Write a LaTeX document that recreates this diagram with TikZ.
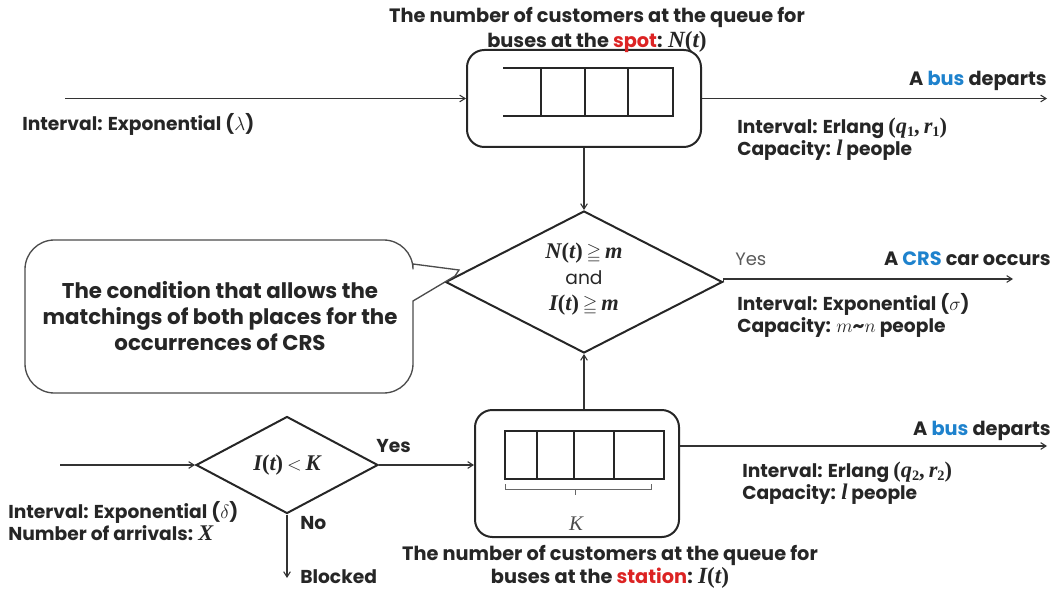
\documentclass[tikz,border=0pt]{standalone}
\usepackage{amsmath,amssymb}
\usepackage{fontspec}
\setmainfont{Poppins}
\newfontfamily\mathser{Liberation Serif}[Scale=1.2]
\newcommand{\bv}[1]{{\mathser\bfseries\itshape #1}}
\newcommand{\bp}[1]{{\mathser\bfseries #1}}
\newcommand{\bsub}[1]{\raisebox{-0.35ex}{\fontsize{9}{9}\selectfont\mathser\bfseries #1}}
\usetikzlibrary{arrows.meta,shapes.geometric,calc}
\definecolor{busblue}{RGB}{30,130,205}
\definecolor{spotred}{RGB}{220,35,35}
\definecolor{yesgray}{RGB}{90,90,90}
\begin{document}
\begin{tikzpicture}[x=0.75pt,y=-0.75pt,
  arr/.style={draw=black!80,line width=0.8pt,-{Straight Barb[length=4pt,width=5pt]}},
  bx/.style={draw=black!85,line width=1.5pt,rounded corners=13pt,inner sep=0pt},
  dia/.style={draw=black!85,line width=1.5pt,diamond,inner sep=0pt},
  q/.style={draw=black!85,line width=1.1pt},
  lbl/.style={font=\fontsize{14}{16.5}\selectfont\bfseries,inner sep=0pt,text=black!85},
  lbll/.style={lbl,anchor=west,align=left},
]
\useasboundingbox (0,0) rectangle (1062,595);
% nodes
\node[bx,minimum width=175.5pt,minimum height=72.75pt] (tbox) at (584,98.5) {};
\node[bx,minimum width=153pt,minimum height=95.25pt] (lbox) at (577,473.5) {};
\node[dia,minimum width=207.75pt,minimum height=106.5pt] (d1) at (584,282) {};
\node[dia,minimum width=136.5pt,minimum height=72.75pt] (d2) at (287,465) {};
% queue top
\draw[q] (503,68) -- (673,68) -- (673,116) -- (503,116);
\foreach \x in {541,585,628} \draw[q] (\x,68) -- (\x,116);
% queue bottom
\draw[q] (505,431) rectangle (664,479);
\foreach \x in {537,574,614} \draw[q] (\x,431) -- (\x,479);
\draw[line width=0.6pt,black!60] (505,484) -- (505,489) -- (651,489) -- (651,484);
\draw[line width=0.6pt,black!60] (575,489) -- (575,495);
\node[inner sep=0pt,font=\fontsize{13}{15}\selectfont\mathser\itshape,text=black!70] (kl) at (576,524) {K};
% texts
\node[lbl,align=center,font=\fontsize{14.5}{18.5}\selectfont\bfseries] (ttitle) at (597,30) {The number of customers at the queue for\\ buses at the \textcolor{spotred}{spot}: \bv{N}\bp{(}\bv{t}\bp{)}};
\node[lbl,align=center,font=\fontsize{14.5}{17.5}\selectfont\bfseries] (btitle) at (610,567) {The number of customers at the queue for\\ buses at the \textcolor{spotred}{station}: \bv{I}\bp{(}\bv{t}\bp{)}};
\node[lbll] (tin) at (22,124) {Interval: Exponential ($\lambda$)};
\node[lbl,anchor=east,font=\fontsize{14.5}{16.5}\selectfont\bfseries] (bus1) at (1047,81) {A \textcolor{busblue}{bus} departs};
\node[lbll] (erl1) at (737,139) {Interval: Erlang \bp{(}\bv{q}\bsub{1}\bp{,} \bv{r}\bsub{1}\bp{)}\\ Capacity: \bv{l} people};
\node[lbl,align=center,font=\fontsize{14}{19.5}\selectfont\bfseries] (d1t) at (584,279) {\bv{N}\bp{(}\bv{t}\bp{)} $\geqq$ \bv{m}\\ {\mdseries and}\\ \bv{I}\bp{(}\bv{t}\bp{)} $\geqq$ \bv{m}};
\node[inner sep=0pt,anchor=west,font=\fontsize{13.5}{16}\selectfont,text=yesgray] (yes1) at (735,259) {Yes};
\node[lbl,anchor=east,font=\fontsize{14.5}{16.5}\selectfont\bfseries] (crs) at (1051,259) {A \textcolor{busblue}{CRS} car occurs};
\node[lbll] (exps) at (737,315) {Interval: Exponential ($\sigma$)\\ Capacity: $m$\textasciitilde$n$ people};
\node[lbl,anchor=east,font=\fontsize{14.5}{16.5}\selectfont\bfseries] (bus2) at (1051,431) {A \textcolor{busblue}{bus} departs};
\node[lbll] (erl2) at (742,483) {Interval: Erlang \bp{(}\bv{q}\bsub{2}\bp{,} \bv{r}\bsub{2}\bp{)}\\ Capacity: \bv{l} people};
\node[lbl] (d2t) at (287,465) {\bv{I}\bp{(}\bv{t}\bp{)} $<$ \bv{K}};
\node[lbl,anchor=west] (yes2) at (376,446) {Yes};
\node[lbl,anchor=west] (no) at (300,523) {No};
\node[lbl,anchor=west] (blk) at (300,577) {Blocked};
\node[lbll] (din) at (8,521) {Interval: Exponential ($\delta$)\\ Number of arrivals: \bv{X}};
% callout
\draw[draw=black!70,line width=1pt,fill=white] (413,264) [rounded corners=22pt] |- (25,240) |- (413,393) [sharp corners] -- (413,301) -- (455,276) -- (459,270) -- cycle;
\node[align=center,font=\fontsize{16}{19.5}\selectfont\bfseries,text=black!85] (ctext) at (220,316) {The condition that allows the\\ matchings of both places for the\\ occurrences of CRS};
% coordinates and connectors
\coordinate (tinS) at (65,98.5);
\coordinate (bus1E) at (1047,98.5);
\coordinate (crsE) at (1013,279);
\coordinate (dinS) at (60,465);
\coordinate (bus2E) at (1047,446);
\coordinate (blkE) at (287,578);
\draw[arr] (tinS) -- (tbox.west);
\draw[arr] (tbox.east) -- (bus1E);
\draw[arr] (tbox.south) -- (d1.north);
\draw[arr] (lbox.north -| d1.south) -- (d1.south);
\draw[arr] (d1.east) -- (crsE -| d1.east) -- (crsE);
\draw[arr] (dinS) -- (d2.west);
\draw[arr] (d2.east) -- (d2.east -| lbox.west);
\draw[arr] (d2.south) -- (blkE);
\draw[arr] (bus2E -| lbox.east) -- (bus2E);
\end{tikzpicture}
\end{document}
